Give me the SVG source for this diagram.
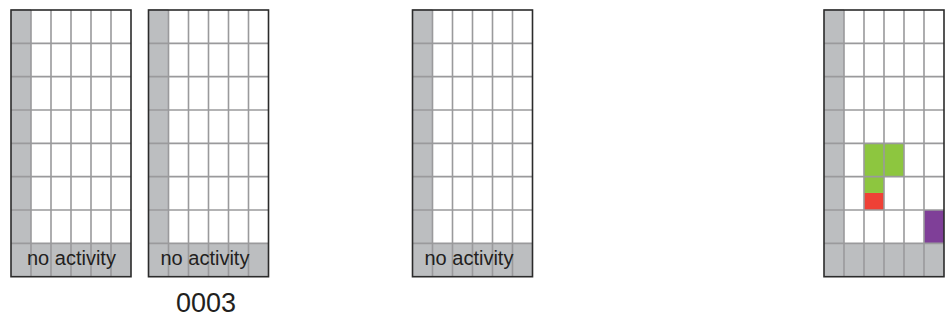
<svg xmlns="http://www.w3.org/2000/svg" xmlns:xlink="http://www.w3.org/1999/xlink" width="947" height="327" viewBox="0 0 947 327">
<style>
.gray{fill:#bcbec0}
.inner{stroke:#9a9a9c;stroke-width:1.6;fill:none}
.outer{stroke:#2b2b2b;stroke-width:1.6;fill:none}
.lbl{font-family:"Liberation Sans",Arial,sans-serif;font-size:20px;fill:#231f20}
.num{font-family:"Liberation Sans",Arial,sans-serif;font-size:27px;fill:#231f20}
</style>
<defs>
<g id="lines">
<path class="inner" d="M20 0V266.7M40 0V266.7M60 0V266.7M80 0V266.7M100 0V266.7M0 33.33H120M0 66.67H120M0 100H120M0 133.33H120M0 166.67H120M0 200H120M0 233.33H120"/>
<rect class="outer" x="0" y="0" width="120" height="266.7"/>
</g>
<g id="base">
<rect x="0" y="0" width="120" height="266.7" fill="#ffffff"/>
<rect class="gray" x="0" y="-0.8" width="20" height="267.5"/>
<rect class="gray" x="0" y="233.33" width="120" height="33.37"/>
</g>
</defs>
<g id="panel1" transform="translate(11,10)">
<use xlink:href="#base"/>
<use xlink:href="#lines"/>
<text class="lbl" x="16" y="255">no activity</text>
</g>
<g id="panel2" transform="translate(148.5,10)">
<use xlink:href="#base"/>
<use xlink:href="#lines"/>
<text class="lbl" x="12" y="255">no activity</text>
</g>
<text id="label-0003" class="num" x="206" y="311.5" text-anchor="middle">0003</text>
<g id="panel3" transform="translate(412.5,10)">
<use xlink:href="#base"/>
<use xlink:href="#lines"/>
<text class="lbl" x="12" y="255">no activity</text>
</g>
<g id="panel4" transform="translate(824,10)">
<use xlink:href="#base"/>
<rect x="40" y="133.33" width="40" height="33.34" fill="#8dc63f"/>
<rect x="40" y="166.67" width="20" height="16.3" fill="#8dc63f"/>
<rect x="40" y="183" width="20" height="17" fill="#ef4136"/>
<rect x="100" y="200" width="20" height="33.33" fill="#7f3f98"/>
<use xlink:href="#lines"/>
</g>
</svg>
